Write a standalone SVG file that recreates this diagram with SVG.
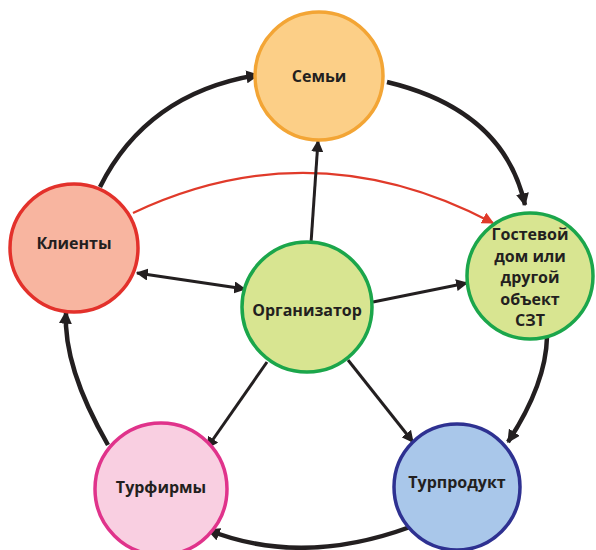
<svg xmlns="http://www.w3.org/2000/svg" width="596" height="550" viewBox="0 0 596 550">
<defs>
<style>
.lbl{font-family:"Open Sans","Noto Sans","Liberation Sans",sans-serif;font-weight:bold;font-size:16px;fill:#231f20;text-anchor:middle}
.node{stroke-width:3.5}
.outer{fill:none;stroke:#231f20;stroke-width:4.5}
.inner{fill:none;stroke:#231f20;stroke-width:3}
.red{fill:none;stroke:#e03a2a;stroke-width:2.2}
</style>
<marker id="ah" viewBox="0 0 10 10" refX="9" refY="5" markerWidth="12" markerHeight="12" markerUnits="userSpaceOnUse" orient="auto-start-reverse">
<path d="M0,0 L10,5 L0,10 z" fill="#231f20"/>
</marker>
<marker id="ahb" viewBox="0 0 10 10" refX="9" refY="5" markerWidth="13" markerHeight="13" markerUnits="userSpaceOnUse" orient="auto">
<path d="M0,0 L10,5 L0,10 z" fill="#231f20"/>
</marker>
<marker id="ahr" viewBox="0 0 10 10" refX="9" refY="5" markerWidth="12" markerHeight="12" markerUnits="userSpaceOnUse" orient="auto">
<path d="M0,0 L10,5 L0,10 z" fill="#e03a2a"/>
</marker>
</defs>
<rect width="596" height="550" fill="#ffffff"/>
<g id="connectors">
<path class="outer" d="M100,187 Q147,93 258,75" marker-end="url(#ahb)"/>
<path class="outer" d="M387,82 Q504,110 525,205" marker-end="url(#ahb)"/>
<path class="outer" d="M547,337 Q546,384 508,442" marker-end="url(#ahb)"/>
<path class="outer" d="M410,527 Q301,567 208,530" marker-end="url(#ahb)"/>
<path class="outer" d="M108,445 Q63,367 66,312" marker-end="url(#ahb)"/>
<path class="red" d="M133,213 Q313,128 493,223" marker-end="url(#ahr)"/>
<line class="inner" x1="311" y1="243" x2="318" y2="141" marker-end="url(#ah)"/>
<line class="inner" x1="245" y1="289" x2="137" y2="273" marker-start="url(#ah)" marker-end="url(#ah)"/>
<line class="inner" x1="373" y1="302" x2="467" y2="283" marker-end="url(#ah)"/>
<line class="inner" x1="267" y1="362" x2="207" y2="448" marker-end="url(#ah)"/>
<line class="inner" x1="348" y1="360" x2="413" y2="442" marker-end="url(#ah)"/>
</g>
<g id="semyi">
<circle class="node" cx="319" cy="76" r="64" fill="#fccf87" stroke="#f3a535"/>
<text class="lbl" x="319" y="82">Семьи</text>
</g>
<g id="gostevoi">
<circle class="node" cx="530" cy="276" r="63" fill="#d8e591" stroke="#1ba64b"/>
<text class="lbl" x="530" y="240">Гостевой</text>
<text class="lbl" x="530" y="261.5">дом или</text>
<text class="lbl" x="530" y="283">другой</text>
<text class="lbl" x="530" y="304.5">объект</text>
<text class="lbl" x="530" y="326">СЗТ</text>
</g>
<g id="klienty">
<circle class="node" cx="74" cy="248" r="64" fill="#f8b5a0" stroke="#e3312b"/>
<text class="lbl" x="74" y="249">Клиенты</text>
</g>
<g id="organizator">
<circle class="node" cx="307" cy="307" r="65" fill="#d8e591" stroke="#1ba64b"/>
<text class="lbl" x="307" y="316">Организатор</text>
</g>
<g id="turfirmy">
<circle class="node" cx="161" cy="489" r="66" fill="#f9cfe1" stroke="#e0338b"/>
<text class="lbl" x="161" y="493">Турфирмы</text>
</g>
<g id="turprodukt">
<circle class="node" cx="457" cy="487" r="63" fill="#a9c7ea" stroke="#2e3191"/>
<text class="lbl" x="457" y="488">Турпродукт</text>
</g>
</svg>
